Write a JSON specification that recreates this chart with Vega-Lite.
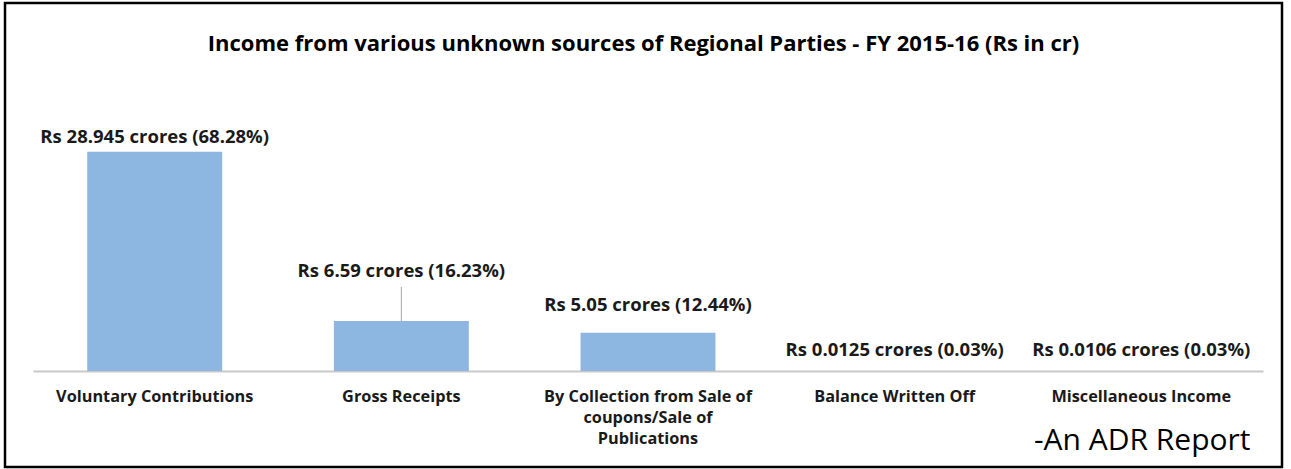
{
  "$schema": "https://vega.github.io/schema/vega-lite/v6.json",
  "width": 1277,
  "height": 464,
  "autosize": {"type": "none"},
  "padding": {"left": 5, "top": 3, "right": 9, "bottom": 2},
  "background": "white",
  "config": {
    "view": {"stroke": "black", "strokeWidth": 2.5},
    "font": "Open Sans"
  },
  "title": {
    "text": "Income from various unknown sources of Regional Parties - FY 2015-16  (Rs in cr)",
    "font": "Open Sans",
    "fontSize": 22,
    "fontWeight": "bold",
    "color": "#000000",
    "anchor": "middle",
    "frame": "group",
    "offset": -63,
    "baseline": "middle"
  },
  "data": {
    "values": [
      {"category": "Voluntary Contributions", "value": 28.945, "label": "Rs 28.945 crores (68.28%)"},
      {"category": "Gross Receipts", "value": 6.59, "label": "Rs 6.59 crores (16.23%)"},
      {"category": "By Collection from Sale of coupons/Sale of Publications", "value": 5.05, "label": "Rs 5.05 crores (12.44%)"},
      {"category": "Balance Written Off", "value": 0.0125, "label": "Rs 0.0125 crores (0.03%)"},
      {"category": "Miscellaneous Income", "value": 0.0106, "label": "Rs 0.0106 crores (0.03%)"}
    ]
  },
  "encoding": {
    "x": {
      "field": "category",
      "type": "nominal",
      "sort": null,
      "scale": {"range": [28, 1258], "paddingInner": 0.453, "paddingOuter": 0.22},
      "axis": {
        "offset": -96,
        "domainColor": "#C8C8C8",
        "domainWidth": 2,
        "ticks": false,
        "labelAngle": 0,
        "labelFont": "Open Sans",
        "labelFontSize": 16.3,
        "labelFontWeight": "bold",
        "labelColor": "#1a1a1a",
        "labelPadding": 17,
        "labelLineHeight": 21,
        "labelLimit": 400,
        "labelExpr": "datum.label == 'By Collection from Sale of coupons/Sale of Publications' ? ['By Collection from Sale of', 'coupons/Sale  of', 'Publications'] : datum.label",
        "title": "-An ADR Report",
        "titleFont": "Open Sans",
        "titleFontSize": 30,
        "titleFontWeight": "normal",
        "titleColor": "#000000",
        "titleAnchor": "end",
        "titleAlign": "right",
        "titleBaseline": "middle",
        "titleX": 1245,
        "titleY": 69
      }
    },
    "y": {
      "field": "value",
      "type": "quantitative",
      "scale": {"domain": [0, 48.6], "range": [368, 0]},
      "axis": null
    }
  },
  "layer": [
    {"mark": {"type": "bar", "color": "#8DB7E1"}},
    {
      "transform": [{"filter": "datum.category == 'Gross Receipts'"}],
      "mark": {"type": "rule", "color": "#A6A6A6", "strokeWidth": 1},
      "encoding": {"y2": {"datum": 11.1}}
    },
    {
      "transform": [{"filter": "datum.category == 'Voluntary Contributions'"}],
      "mark": {"type": "text", "baseline": "middle", "dy": -15, "fontSize": 18.5, "fontWeight": "bold", "color": "#1a1a1a"},
      "encoding": {"text": {"field": "label"}}
    },
    {
      "transform": [{"filter": "datum.category == 'Gross Receipts'"}],
      "mark": {"type": "text", "baseline": "middle", "dy": -50, "fontSize": 18.5, "fontWeight": "bold", "color": "#1a1a1a"},
      "encoding": {"text": {"field": "label"}}
    },
    {
      "transform": [{"filter": "datum.category == 'By Collection from Sale of coupons/Sale of Publications'"}],
      "mark": {"type": "text", "baseline": "middle", "dy": -28, "fontSize": 18.5, "fontWeight": "bold", "color": "#1a1a1a"},
      "encoding": {"text": {"field": "label"}}
    },
    {
      "transform": [{"filter": "datum.category == 'Balance Written Off' || datum.category == 'Miscellaneous Income'"}],
      "mark": {"type": "text", "baseline": "middle", "dy": -21, "fontSize": 18.5, "fontWeight": "bold", "color": "#1a1a1a"},
      "encoding": {"text": {"field": "label"}}
    }
  ]
}
